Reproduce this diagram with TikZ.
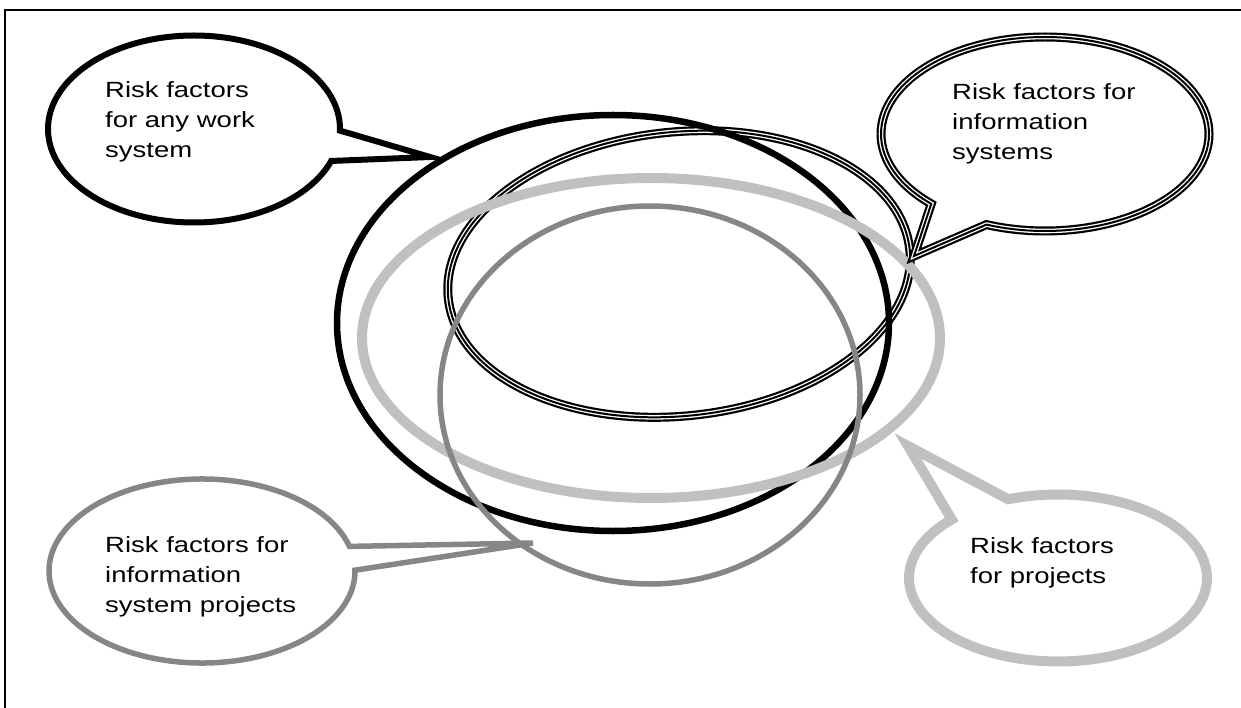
\documentclass[tikz,border=0pt]{standalone}
\usepackage{fontspec}
\setmainfont{Liberation Sans}[FakeStretch=1.25]
\usepackage{tikz}
\usetikzlibrary{shapes.geometric,shapes.callouts}
\definecolor{lightgrey}{RGB}{192,192,192}
\definecolor{midgrey}{RGB}{134,134,134}

\begin{document}
\begin{tikzpicture}[x=1pt,y=-1pt]
  \tikzstyle{ring}=[ellipse, inner sep=0pt, outer sep=0pt]
  \tikzstyle{bubble}=[ellipse callout, inner sep=0pt, outer sep=0pt]
  \tikzstyle{triple}=[draw=white, line width=4.6pt, preaction={draw=black, line width=9pt}, postaction={draw=black, line width=2pt}]
  \tikzstyle{bubbletext}=[anchor=base west, align=left, inner sep=0pt, font=\fontsize{22}{30}\selectfont]
  \useasboundingbox (0,0) rectangle (1241,708);
  \draw[line width=2pt] (5,708) -- (5,10) -- (1241,10);
  \node[ring, triple, minimum width=464pt, minimum height=284pt, rotate=6] (infosys) at (679,274) {};
  \node[ring, draw=black, line width=6.5pt, minimum width=552pt, minimum height=416pt] (work) at (613,323) {};
  \node[ring, draw=lightgrey, line width=10pt, minimum width=578pt, minimum height=320pt] (proj) at (651,338) {};
  \node[ring, draw=midgrey, line width=5.5pt, minimum width=420pt, minimum height=378pt] (isproj) at (650,395) {};
  \coordinate (wstip) at (430,157);
  \coordinate (istip) at (914,256);
  \coordinate (isptip) at (533,543);
  \coordinate (pjtip) at (908,446);
  \node[bubble, draw=black, line width=6pt, minimum width=292pt, minimum height=187pt,
        callout absolute pointer={(wstip)}, callout pointer arc=19] (wsbubble) at (194,129) {};
  \node[bubble, triple, minimum width=328pt, minimum height=194pt,
        callout absolute pointer={(istip)}, callout pointer arc=23] (isbubble) at (1045,134) {};
  \node[bubble, draw=midgrey, line width=5.5pt, minimum width=306pt, minimum height=184pt,
        callout absolute pointer={(isptip)}, callout pointer arc=15] (ispbubble) at (202,571) {};
  \node[bubble, draw=lightgrey, line width=10pt, minimum width=298pt, minimum height=167pt,
        callout absolute pointer={(pjtip)}, callout pointer arc=26] (pjbubble) at (1058,578) {};
  \node[bubbletext] (wslabel) at (105,158) {Risk factors\\for any work\\system};
  \node[bubbletext] (islabel) at (952,160) {Risk factors for\\information\\systems};
  \node[bubbletext] (isplabel) at (105,612) {Risk factors for\\information\\system projects};
  \node[bubbletext] (pjlabel) at (970,583) {Risk factors\\for projects};
\end{tikzpicture}
\end{document}
